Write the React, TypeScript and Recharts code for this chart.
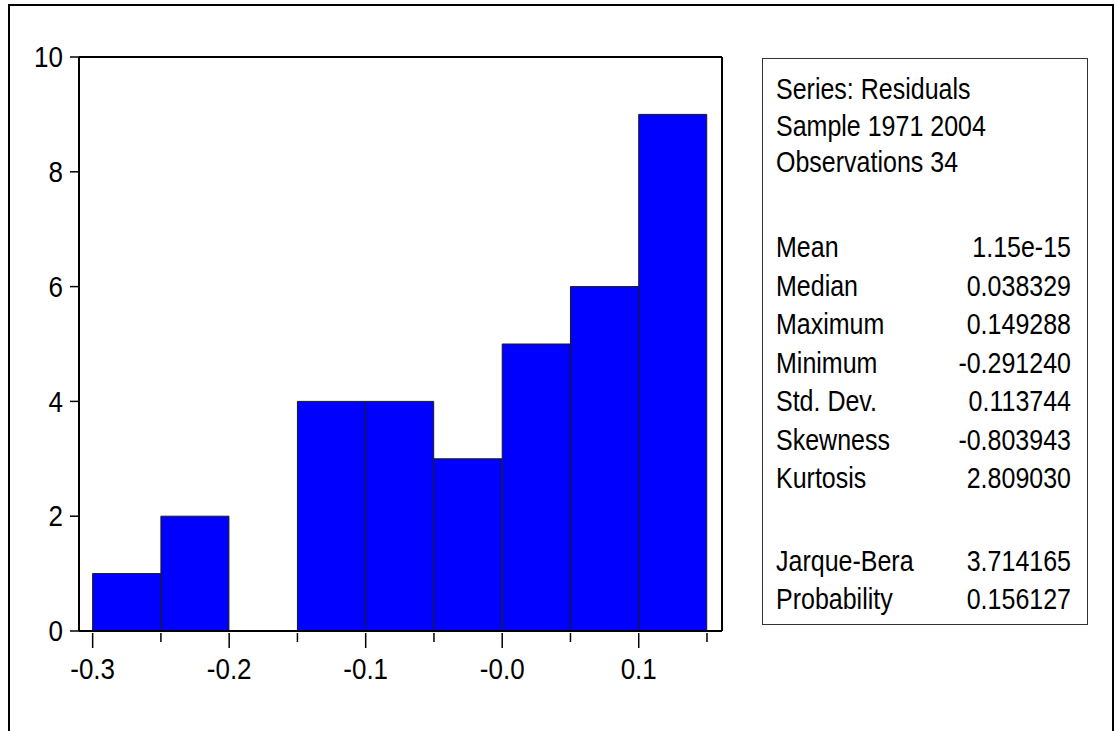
import { Bar, BarChart, ReferenceLine, XAxis, YAxis } from "recharts";

// histogram bins (centre of each 0.05 bin) and counts
const binCenters = [-0.275, -0.225, -0.175, -0.125, -0.075, -0.025, 0.025, 0.075, 0.125];
const counts = [1, 2, 0, 4, 4, 3, 5, 6, 9];

const xDomain = [-0.31, 0.161];
const xTicks = [-0.3, -0.25, -0.2, -0.15, -0.1, -0.05, 0, 0.05, 0.1, 0.15];
const xTickLabels: Record<string, string> = {
  "-0.3": "-0.3",
  "-0.2": "-0.2",
  "-0.1": "-0.1",
  "0": "-0.0",
  "0.1": "0.1",
};
const yTicks = [0, 2, 4, 6, 8, 10];

const headerLines = ["Series: Residuals", "Sample 1971 2004", "Observations 34"];
const statNames = ["Mean", "Median", "Maximum", "Minimum", "Std. Dev.", "Skewness", "Kurtosis"];
const statValues = ["1.15e-15", "0.038329", "0.149288", "-0.291240", "0.113744", "-0.803943", "2.809030"];
const testNames = ["Jarque-Bera", "Probability"];
const testValues = ["3.714165", "0.156127"];

const FONT = "'Liberation Sans', Arial, sans-serif";
const STRETCH = 1.15;

const data = binCenters.map((c, i) => ({ x: c, count: counts[i] }));

function XTick(props: any) {
  const { x, y, payload } = props;
  const label = xTickLabels[String(payload.value)];
  return (
    <g>
      <line x1={x} x2={x} y1={y + 2} y2={y + (label ? 17 : 11)} stroke="#000" strokeWidth={1.5} />
      {label && (
        <g transform={`translate(${x},${y + 38}) scale(1,${STRETCH})`}>
          <text textAnchor="middle" dominantBaseline="central" fontSize={26} fontFamily={FONT} fill="#000">
            {label}
          </text>
        </g>
      )}
    </g>
  );
}

function YTick(props: any) {
  const { x, y, payload } = props;
  return (
    <g transform={`translate(${x},${y}) scale(1,${STRETCH})`}>
      <text textAnchor="end" dominantBaseline="central" fontSize={26} fontFamily={FONT} fill="#000">
        {payload.value}
      </text>
    </g>
  );
}

function StatRow({ top, left, right }: { top: number; left: string; right?: string }) {
  return (
    <div
      style={{
        position: "absolute",
        left: 13,
        right: 16,
        top: top - 16,
        height: 30,
        lineHeight: "30px",
        display: "flex",
        justifyContent: "space-between",
        transform: `scaleY(${STRETCH + 0.02})`,
        whiteSpace: "nowrap",
      }}
    >
      <span>{left}</span>
      {right && <span>{right}</span>}
    </div>
  );
}

export default function App() {
  const boxTop = 58;
  return (
    <div
      style={{
        position: "fixed",
        left: 0,
        top: 0,
        width: 1117,
        height: 731,
        overflow: "hidden",
        background: "#fff",
        fontFamily: FONT,
      }}
    >
      <div
        style={{
          position: "absolute",
          left: 8,
          top: 4,
          width: 1106,
          height: 780,
          border: "2px solid #000",
          boxSizing: "border-box",
        }}
      />
      <div style={{ position: "absolute", left: 0, top: 0 }}>
        <BarChart
          width={740}
          height={700}
          data={data}
          margin={{ top: 57, right: 18, bottom: 19, left: 0 }}
          barCategoryGap={0}
          barGap={0}
        >
          <XAxis
            dataKey="x"
            type="number"
            domain={xDomain}
            ticks={xTicks}
            interval={0}
            height={50}
            axisLine={{ stroke: "#000", strokeWidth: 2 }}
            tickLine={false}
            tickSize={0}
            tickMargin={0}
            tick={(p: any) => <XTick {...p} />}
            allowDataOverflow
          />
          <YAxis
            type="number"
            domain={[0, 10]}
            ticks={yTicks}
            interval={0}
            width={79}
            axisLine={{ stroke: "#000", strokeWidth: 2 }}
            tickLine={{ stroke: "#000", strokeWidth: 1.5 }}
            tickSize={9}
            tickMargin={7}
            tick={(p: any) => <YTick {...p} />}
          />
          <ReferenceLine y={10} stroke="#000" strokeWidth={2} />
          <ReferenceLine x={xDomain[1]} stroke="#000" strokeWidth={2} />
          <Bar
            dataKey="count"
            fill="#0000FF"
            stroke="#1a1a1a"
            strokeWidth={1}
            isAnimationActive={false}
          />
        </BarChart>
      </div>
      <div
        style={{
          position: "absolute",
          left: 762,
          top: boxTop,
          width: 326,
          height: 567,
          border: "1px solid #333",
          boxSizing: "border-box",
          fontSize: 25,
          color: "#000",
        }}
      >
        {headerLines.map((t, i) => (
          <StatRow key={t} top={88 + i * 36.5 - boxTop} left={t} />
        ))}
        {statNames.map((n, i) => (
          <StatRow key={n} top={246 + i * 38.5 - boxTop} left={n} right={statValues[i]} />
        ))}
        {testNames.map((n, i) => (
          <StatRow key={n} top={560 + i * 38 - boxTop} left={n} right={testValues[i]} />
        ))}
      </div>
    </div>
  );
}
